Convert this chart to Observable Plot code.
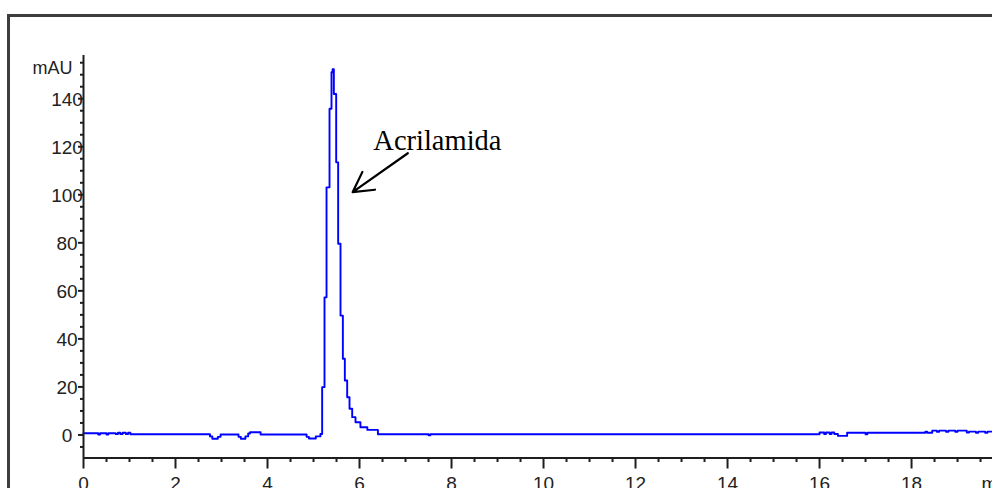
<!DOCTYPE html>
<html>
<head>
<meta charset="utf-8">
<script src="https://cdn.jsdelivr.net/npm/d3@7"></script>
<script src="https://cdn.jsdelivr.net/npm/@observablehq/plot@0.6"></script>
<style>
  html, body { margin: 0; padding: 0; background: #fff; overflow: hidden; }
  #wrap { position: relative; width: 992px; height: 488px; overflow: hidden; }
  #frame {
    position: absolute; left: 7px; top: 14px; width: 1000px; height: 500px;
    border: 3px solid #3d3d3d; box-sizing: border-box; pointer-events: none;
  }
  #chart { position: absolute; left: 0; top: 0; }
</style>
</head>
<body>
<div id="wrap">
  <div id="chart"></div>
  <div id="frame"></div>
</div>
<script>
// Retention time (min) at which the detector signal steps to a new level
const time = [
  0.00, 0.32, 0.36, 0.50, 0.54, 0.70, 0.75, 0.80, 0.85, 0.92, 0.97, 1.02,
  2.75, 2.80, 2.92, 2.98, 3.37, 3.42, 3.52, 3.58, 3.62, 3.85,
  4.85, 4.90, 5.05, 5.15,
  5.188, 5.239, 5.283, 5.348, 5.391, 5.415, 5.442, 5.493, 5.536, 5.587,
  5.638, 5.681, 5.732, 5.783, 5.841, 5.913, 6.02, 6.17, 6.40,
  7.50, 7.54,
  16.00, 16.10, 16.14, 16.22, 16.26, 16.32, 16.40, 16.60, 17.00, 17.04,
  18.30, 18.34, 18.45, 18.55, 18.60, 18.75, 18.80, 18.95, 19.00, 19.20,
  19.25, 19.40, 19.45, 19.60, 19.65, 19.76
];
// Absorbance (mAU) from each of those times on
const mAU = [
  0.7, 0.2, 0.7, 0.2, 0.7, 0.4, 0.9, 0.4, 0.9, 0.4, 0.9, 0.3,
  -0.6, -1.6, -0.8, 0.2, -0.8, -1.6, -0.6, 0.6, 1.1, 0.2,
  -0.8, -1.5, -0.6, 0.4,
  19.9, 57.3, 103.1, 135.8, 151.0, 152.3, 142.0, 113.5, 79.6, 49.7,
  31.7, 22.7, 15.7, 10.9, 7.4, 5.3, 3.2, 2.1, 0.3,
  -0.1, 0.3,
  1.0, 0.4, 1.0, 0.4, 1.0, 0.4, -0.4, 0.9, 0.3, 0.9,
  1.4, 0.9, 1.8, 1.3, 1.8, 1.3, 1.8, 1.3, 1.8, 1.0,
  1.4, 0.9, 1.4, 0.9, 1.4, 1.4
];

const xMajor = d3.range(0, 20, 2);
const xMinor = d3.range(0, 20, 0.5).filter(v => v % 2 !== 0);
const yMajor = d3.range(0, 160, 20);
const yMinor = d3.range(-5, 160, 5).filter(v => v % 20 !== 0);

const trace = time.map((t, i) => ({t, v: mAU[i]}));

// Peak annotation
const peakLabel = [{t: 6.30, v: 118.7, text: "Acrilamida"}];
const peakArrow = [{t1: 7.05, v1: 117.3, t2: 5.85, v2: 101.1}];

const axisColor = "#1e1e1e";
const labelColor = "#222";
const xDomain = [0, 19.76];
const yDomain = [-9.6, 158];

const chart = Plot.plot({
  width: 992,
  height: 488,
  marginLeft: 83,
  marginRight: 0,
  marginTop: 55,
  marginBottom: 30.5,
  x: {domain: xDomain},
  y: {domain: yDomain},
  style: {fontFamily: "'Liberation Sans', Arial, sans-serif", fontSize: "19px", background: "transparent", overflow: "visible"},
  marks: [
    // chromatogram trace
    Plot.line(trace, {x: "t", y: "v", curve: "step-after", stroke: "#0000ff", strokeWidth: 1.9}),
    // axis lines
    Plot.ruleX([0], {stroke: axisColor, strokeWidth: 2}),
    Plot.ruleY([yDomain[0]], {stroke: axisColor, strokeWidth: 2}),
    // y axis ticks
    Plot.axisY({ticks: yMinor, tickSize: 3, text: null, stroke: axisColor, strokeWidth: 2, label: null}),
    Plot.axisY({ticks: yMajor, tickSize: 5, text: null, stroke: axisColor, strokeWidth: 2, label: null}),
    // y tick labels, centred a little left of the axis
    Plot.text(yMajor, {y: d => d, text: d => String(d), frameAnchor: "left", textAnchor: "middle",
      lineAnchor: "middle", dx: -16.5, dy: 1, fill: labelColor, fontSize: 19}),
    // x axis ticks
    Plot.axisX({ticks: xMinor, tickSize: 4.5, text: null, stroke: axisColor, strokeWidth: 2, label: null}),
    Plot.axisX({ticks: xMajor, tickSize: 11, text: null, stroke: axisColor, strokeWidth: 2, label: null}),
    // x tick labels
    Plot.text(xMajor, {x: d => d, text: d => String(d), frameAnchor: "bottom", lineAnchor: "top",
      dy: 18.5, fill: labelColor, fontSize: 19}),
    Plot.text([{t: 19.52, s: "min"}], {x: "t", text: "s", frameAnchor: "bottom", lineAnchor: "top",
      textAnchor: "start", dy: 18.5, fill: labelColor, fontSize: 19}),
    // unit label above the y axis
    Plot.text(["mAU"], {frameAnchor: "top-left", textAnchor: "end", lineAnchor: "middle",
      dx: -11, dy: 13, fill: labelColor, fontSize: 18}),
    // annotation
    Plot.arrow(peakArrow, {x1: "t1", y1: "v1", x2: "t2", y2: "v2", stroke: "#000",
      strokeWidth: 2.2, headLength: 19, headAngle: 58}),
    Plot.text(peakLabel, {x: "t", y: "v", text: "text", textAnchor: "start", lineAnchor: "bottom",
      fontFamily: "'Liberation Serif', 'Times New Roman', serif", fontSize: 28.5, fill: "#000"})
  ]
});

document.getElementById("chart").appendChild(chart);
</script>
</body>
</html>
